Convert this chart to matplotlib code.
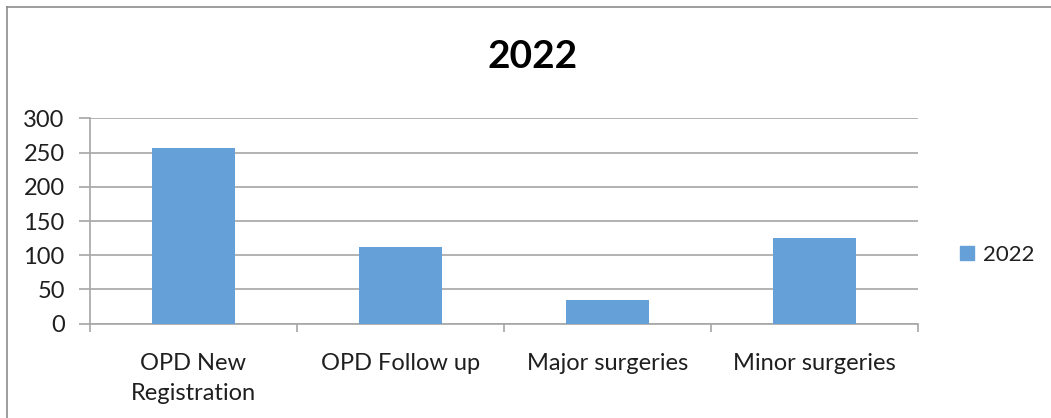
import matplotlib
matplotlib.use("Agg")
import matplotlib.pyplot as plt
from matplotlib.lines import Line2D
from matplotlib.patches import Patch

categories = ["OPD New\nRegistration", "OPD Follow up", "Major surgeries", "Minor surgeries"]
values = [256, 112, 35, 125]
series_name = "2022"
y_ticks = [0, 50, 100, 150, 200, 250, 300]

plt.rcParams["font.family"] = ["Lato", "DejaVu Sans"]
text_color = "#1f1f1f"
bar_color = "#65a1d8"
grid_color = "#a6a6a6"

W, H = 1051, 418
fig = plt.figure(figsize=(W / 100, H / 100), dpi=100)
ax = fig.add_axes([90 / W, 94.3 / H, 828 / W, 205.4 / H])

x = list(range(len(categories)))
ax.bar(x, values, width=0.4, color=bar_color, zorder=3)

ax.set_xlim(-0.5, len(categories) - 0.5)
ax.set_ylim(y_ticks[0], y_ticks[-1])
ax.set_yticks(y_ticks)
ax.set_xticks(x)
ax.set_xticklabels(categories, linespacing=1.55)
ax.set_xticks([i - 0.5 for i in range(len(categories) + 1)], minor=True)

ax.yaxis.grid(True, color=grid_color, linewidth=1.2)
ax.set_axisbelow(True)

for side in ["top", "right"]:
    ax.spines[side].set_visible(False)
for side in ["left", "bottom"]:
    ax.spines[side].set_color(grid_color)
    ax.spines[side].set_linewidth(1.2)

ax.tick_params(axis="y", length=7.7, width=1.2, color=grid_color, pad=10.5,
               labelsize=17, labelcolor=text_color)
ax.tick_params(axis="x", which="major", length=0, pad=21,
               labelsize=17, labelcolor=text_color)
ax.tick_params(axis="x", which="minor", length=5.8, width=1.2, color=grid_color)

fig.text(533 / W, 1 - 56 / H, "2022", ha="center", va="center",
         fontsize=28, fontweight="bold", color="black")

fig.legend(handles=[Patch(color=bar_color)], labels=[series_name],
           loc="center left", bbox_to_anchor=(960 / W, 1 - 255 / H),
           frameon=False, fontsize=16, handlelength=0.62, handleheight=0.62,
           handletextpad=0.4, borderpad=0, borderaxespad=0, labelcolor=text_color)

# chart area border (left and top edge visible in the crop)
fig.add_artist(Line2D([7 / W, 7 / W], [0, 1 - 7 / H], color="#8c8c8c", linewidth=1.2))
fig.add_artist(Line2D([7 / W, 1], [1 - 7 / H, 1 - 7 / H], color="#8c8c8c", linewidth=1.2))

fig.savefig("out.png", dpi=100)
